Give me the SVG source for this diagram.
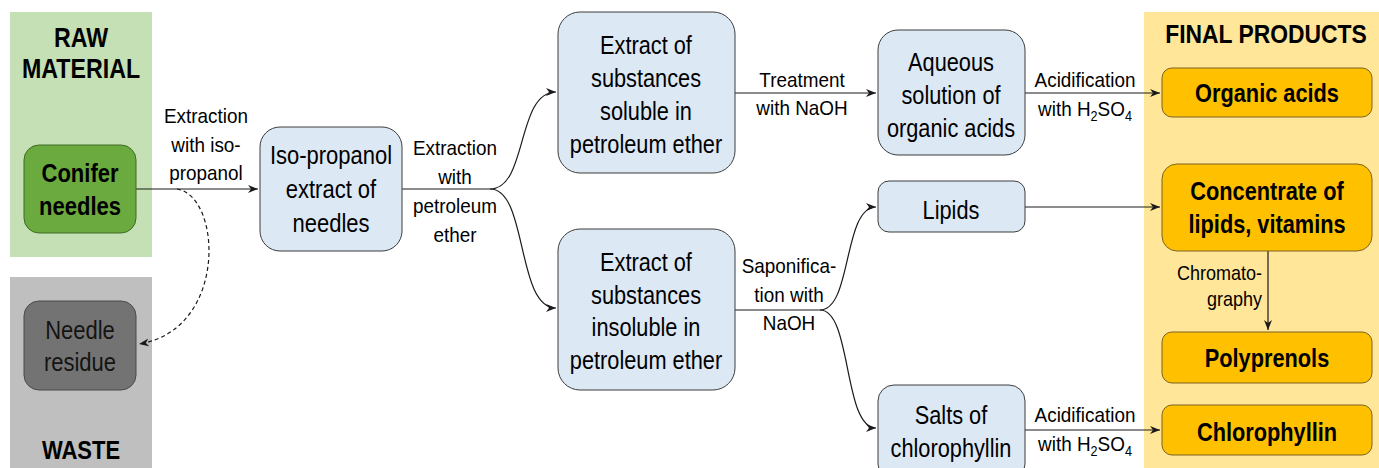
<svg xmlns="http://www.w3.org/2000/svg" width="1379" height="468" viewBox="0 0 1379 468">
<style>
text{font-family:"Liberation Sans",Arial,sans-serif;fill:#000000;text-anchor:middle}
.n{font-size:25px}
.b{font-size:25px;font-weight:bold}
.h{font-size:24px;font-weight:bold}
.l{font-size:21px}
.blue{fill:#dde8f5;stroke:#3d3d3d;stroke-width:1}
.org{fill:#ffc000;stroke:#7d6420;stroke-width:1}
.c{fill:none;stroke:#1a1a1a;stroke-width:1.2}
</style>
<defs>
<marker id="ar" markerWidth="12" markerHeight="10" refX="10" refY="4" orient="auto" markerUnits="userSpaceOnUse">
<path d="M0,0 L10,4 L0,8 L3,4 z" fill="#1a1a1a"/>
</marker>
</defs>
<rect x="0" y="0" width="1379" height="468" fill="#ffffff"/>
<g id="panels">
<rect x="10" y="12" width="142" height="245" fill="#c5e0b4"/>
<rect x="10" y="277" width="142" height="195" fill="#bfbfbf"/>
<rect x="1144" y="12" width="240" height="460" fill="#ffe699"/>
<text class="h" transform="translate(81,0) scale(0.86,1)" x="0" y="47" style="font-size:27px">RAW</text>
<text class="h" transform="translate(81,0) scale(0.86,1)" x="0" y="78" style="font-size:27px">MATERIAL</text>
<text class="h" transform="translate(81,0) scale(0.88,1)" x="0" y="459" style="font-size:25px">WASTE</text>
<text class="h" transform="translate(1266,0) scale(0.88,1)" x="0" y="43" style="font-size:26px">FINAL PRODUCTS</text>
</g>
<g id="connectors">
<path class="c" d="M136,189 L258,189" marker-end="url(#ar)"/>
<path class="c" d="M177,189 C222,196 228,330 139,344" stroke-dasharray="4,3" marker-end="url(#ar)"/>
<path class="c" d="M402,189 L490,189"/>
<path class="c" d="M490,189 C528,189 516,92 556,92" marker-end="url(#ar)"/>
<path class="c" d="M490,189 C528,189 516,308 556,308" marker-end="url(#ar)"/>
<path class="c" d="M735,93 L876,93" marker-end="url(#ar)"/>
<path class="c" d="M1025,93 L1160,93" marker-end="url(#ar)"/>
<path class="c" d="M735,310 L820,310"/>
<path class="c" d="M820,310 C852,310 843,207 876,207" marker-end="url(#ar)"/>
<path class="c" d="M820,310 C852,310 843,428 876,428" marker-end="url(#ar)"/>
<path class="c" d="M1025,207 L1160,207" marker-end="url(#ar)"/>
<path class="c" d="M1025,430 L1160,430" marker-end="url(#ar)"/>
<path class="c" d="M1268,251 L1268,330" marker-end="url(#ar)"/>
<g id="labels">
<text class="l" transform="translate(206,0) scale(0.9,1)" x="0" y="123">Extraction</text>
<text class="l" transform="translate(206,0) scale(0.9,1)" x="0" y="152">with iso-</text>
<text class="l" transform="translate(206,0) scale(0.9,1)" x="0" y="180">propanol</text>
<text class="l" transform="translate(455,0) scale(0.9,1)" x="0" y="155">Extraction</text>
<text class="l" transform="translate(455,0) scale(0.9,1)" x="0" y="184">with</text>
<text class="l" transform="translate(455,0) scale(0.9,1)" x="0" y="213">petroleum</text>
<text class="l" transform="translate(455,0) scale(0.9,1)" x="0" y="242">ether</text>
<text class="l" transform="translate(802,0) scale(0.9,1)" x="0" y="87">Treatment</text>
<text class="l" transform="translate(802,0) scale(0.9,1)" x="0" y="115">with NaOH</text>
<text class="l" transform="translate(1085,0) scale(0.9,1)" x="0" y="87">Acidification</text>
<text class="l" transform="translate(1085,0) scale(0.9,1)" x="0" y="116">with H<tspan font-size="14" dy="5">2</tspan><tspan dy="-5">SO</tspan><tspan font-size="14" dy="5">4</tspan></text>
<text class="l" transform="translate(789,0) scale(0.9,1)" x="0" y="273">Saponifica-</text>
<text class="l" transform="translate(789,0) scale(0.9,1)" x="0" y="302">tion with</text>
<text class="l" transform="translate(789,0) scale(0.9,1)" x="0" y="330">NaOH</text>
<text class="l" transform="translate(1085,0) scale(0.9,1)" x="0" y="422">Acidification</text>
<text class="l" transform="translate(1085,0) scale(0.9,1)" x="0" y="451">with H<tspan font-size="14" dy="5">2</tspan><tspan dy="-5">SO</tspan><tspan font-size="14" dy="5">4</tspan></text>
<text class="l" transform="translate(1262,0) scale(0.9,1)" x="0" y="280" style="text-anchor:end;font-size:20px">Chromato-</text>
<text class="l" transform="translate(1262,0) scale(0.9,1)" x="0" y="306" style="text-anchor:end;font-size:20px">graphy</text>
</g>
</g>
<g id="conifer">
<rect x="24" y="145" width="112" height="88" rx="15" fill="#6aaa3e" stroke="#3f6b25"/>
<text class="b" transform="translate(80,0) scale(0.88,1)" x="0" y="182">Conifer</text>
<text class="b" transform="translate(80,0) scale(0.88,1)" x="0" y="215">needles</text>
</g>
<g id="residue">
<rect x="24" y="301" width="112" height="89" rx="15" fill="#737373" stroke="#4a4a4a"/>
<text class="n" transform="translate(80,0) scale(0.88,1)" x="0" y="339" style="fill:#141414">Needle</text>
<text class="n" transform="translate(80,0) scale(0.88,1)" x="0" y="371" style="fill:#141414">residue</text>
</g>
<g id="isopropanol">
<rect class="blue" x="260" y="127" width="142" height="124" rx="20"/>
<text class="n" transform="translate(331,0) scale(0.88,1)" x="0" y="164">Iso-propanol</text>
<text class="n" transform="translate(331,0) scale(0.88,1)" x="0" y="198">extract of</text>
<text class="n" transform="translate(331,0) scale(0.88,1)" x="0" y="232">needles</text>
</g>
<g id="soluble">
<rect class="blue" x="558" y="12" width="177" height="161" rx="22"/>
<text class="n" transform="translate(646,0) scale(0.87,1)" x="0" y="54">Extract of</text>
<text class="n" transform="translate(646,0) scale(0.87,1)" x="0" y="87">substances</text>
<text class="n" transform="translate(646,0) scale(0.87,1)" x="0" y="120">soluble in</text>
<text class="n" transform="translate(646,0) scale(0.87,1)" x="0" y="153">petroleum ether</text>
</g>
<g id="insoluble">
<rect class="blue" x="558" y="229" width="177" height="161" rx="22"/>
<text class="n" transform="translate(646,0) scale(0.87,1)" x="0" y="271">Extract of</text>
<text class="n" transform="translate(646,0) scale(0.87,1)" x="0" y="304">substances</text>
<text class="n" transform="translate(646,0) scale(0.87,1)" x="0" y="336">insoluble in</text>
<text class="n" transform="translate(646,0) scale(0.87,1)" x="0" y="369">petroleum ether</text>
</g>
<g id="aqueous">
<rect class="blue" x="878" y="30" width="147" height="125" rx="20"/>
<text class="n" transform="translate(951,0) scale(0.87,1)" x="0" y="71">Aqueous</text>
<text class="n" transform="translate(951,0) scale(0.87,1)" x="0" y="104">solution of</text>
<text class="n" transform="translate(951,0) scale(0.87,1)" x="0" y="137">organic acids</text>
</g>
<g id="lipids">
<rect class="blue" x="878" y="181" width="147" height="51" rx="11"/>
<text class="n" transform="translate(951,0) scale(0.87,1)" x="0" y="219">Lipids</text>
</g>
<g id="salts">
<rect class="blue" x="878" y="385" width="147" height="95" rx="16"/>
<text class="n" transform="translate(951,0) scale(0.87,1)" x="0" y="424">Salts of</text>
<text class="n" transform="translate(951,0) scale(0.87,1)" x="0" y="457">chlorophyllin</text>
</g>
<g id="organic-acids">
<rect class="org" x="1162" y="68" width="210" height="49" rx="10"/>
<text class="b" transform="translate(1267,0) scale(0.87,1)" x="0" y="102">Organic acids</text>
</g>
<g id="concentrate">
<rect class="org" x="1162" y="164" width="210" height="87" rx="15"/>
<text class="b" transform="translate(1267,0) scale(0.87,1)" x="0" y="200">Concentrate of</text>
<text class="b" transform="translate(1267,0) scale(0.87,1)" x="0" y="233">lipids, vitamins</text>
</g>
<g id="polyprenols">
<rect class="org" x="1162" y="332" width="210" height="51" rx="10"/>
<text class="b" transform="translate(1267,0) scale(0.87,1)" x="0" y="367">Polyprenols</text>
</g>
<g id="chlorophyllin">
<rect class="org" x="1162" y="405" width="210" height="50" rx="10"/>
<text class="b" transform="translate(1267,0) scale(0.87,1)" x="0" y="441">Chlorophyllin</text>
</g>
</svg>
